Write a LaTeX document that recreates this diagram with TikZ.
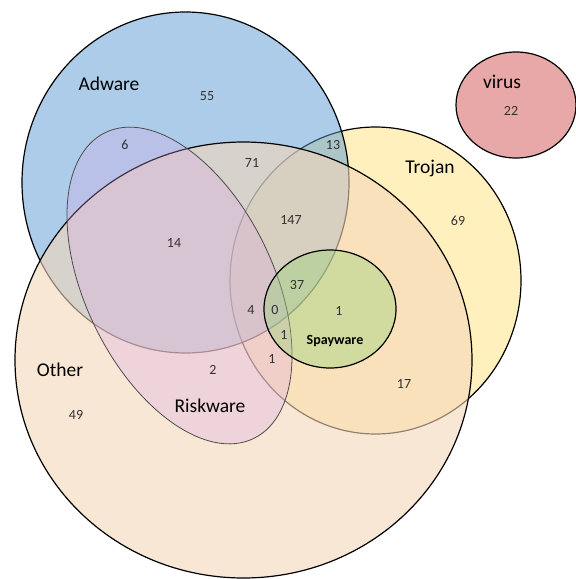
\documentclass[tikz,border=0pt]{standalone}
\usepackage{fontspec}
\setmainfont{Carlito}
\definecolor{adwarec}{RGB}{91,155,213}
\definecolor{trojanc}{RGB}{255,240,190}
\definecolor{otherc}{RGB}{245,215,185}
\definecolor{riskc}{RGB}{219,168,230}
\definecolor{spayc}{RGB}{150,210,120}
\definecolor{virusc}{RGB}{232,168,168}
\definecolor{numc}{RGB}{50,50,50}
\begin{document}
\begin{tikzpicture}[x=1pt,y=-1pt,
  setline/.style={draw=black,line width=1.2pt},
  biglabel/.style={font=\fontsize{19.5}{22}\selectfont,text=black,inner sep=0pt},
  numlabel/.style={font=\fontsize{14}{16}\selectfont,text=numc,inner sep=0pt},
  spaylabel/.style={font=\fontsize{14}{16}\selectfont\bfseries,text=black,inner sep=0pt}]
\useasboundingbox (0,0) rectangle (576,579);
\fill[white] (0,0) rectangle (576,579);
% Trojan
\filldraw[setline,fill=trojanc] (375.5,280.5) ellipse [x radius=145.5pt, y radius=153.5pt];
% Adware
\filldraw[setline,fill=adwarec,fill opacity=0.5] (185.5,182.5) ellipse [x radius=163.5pt, y radius=170.5pt];
% Other
\filldraw[setline,fill=otherc,fill opacity=0.6] (243.5,360) ellipse [x radius=228.5pt, y radius=218pt];
% Riskware
\filldraw[draw=black!70,line width=0.8pt,fill=riskc,fill opacity=0.3,rotate around={25.9:(179.5,285.5)}] (179.5,285.5) ellipse [x radius=94pt, y radius=170pt];
% Spayware
\filldraw[setline,fill=spayc,fill opacity=0.4] (330,309) ellipse [x radius=66pt, y radius=59pt];
% virus
\filldraw[setline,fill=virusc] (516,105) ellipse [x radius=60pt, y radius=53pt];
% labels
\node[biglabel] (ladware) at (109,84) {Adware};
\node[biglabel] (lvirus) at (502,82) {virus};
\node[biglabel] (ltrojan) at (430,168) {Trojan};
\node[biglabel] (lother) at (60,370) {Other};
\node[biglabel] (lrisk) at (210,406) {Riskware};
\node[spaylabel] (lspay) at (335,341) {Spayware};
% numbers
\node[numlabel] (n55) at (207,96) {55};
\node[numlabel] (n22) at (511,111) {22};
\node[numlabel] (n6) at (125,145) {6};
\node[numlabel] (n13) at (333,145) {13};
\node[numlabel] (n71) at (252,163) {71};
\node[numlabel] (n147) at (291,220) {147};
\node[numlabel] (n69) at (458,221) {69};
\node[numlabel] (n14) at (174,243) {14};
\node[numlabel] (n37) at (297,285) {37};
\node[numlabel] (n4) at (251,310) {4};
\node[numlabel] (n0) at (275,310) {0};
\node[numlabel] (n1a) at (339,311) {1};
\node[numlabel] (n1b) at (284,335) {1};
\node[numlabel] (n1c) at (272,359) {1};
\node[numlabel] (n2) at (213,370) {2};
\node[numlabel] (n17) at (404,384) {17};
\node[numlabel] (n49) at (76,415) {49};
\end{tikzpicture}
\end{document}
